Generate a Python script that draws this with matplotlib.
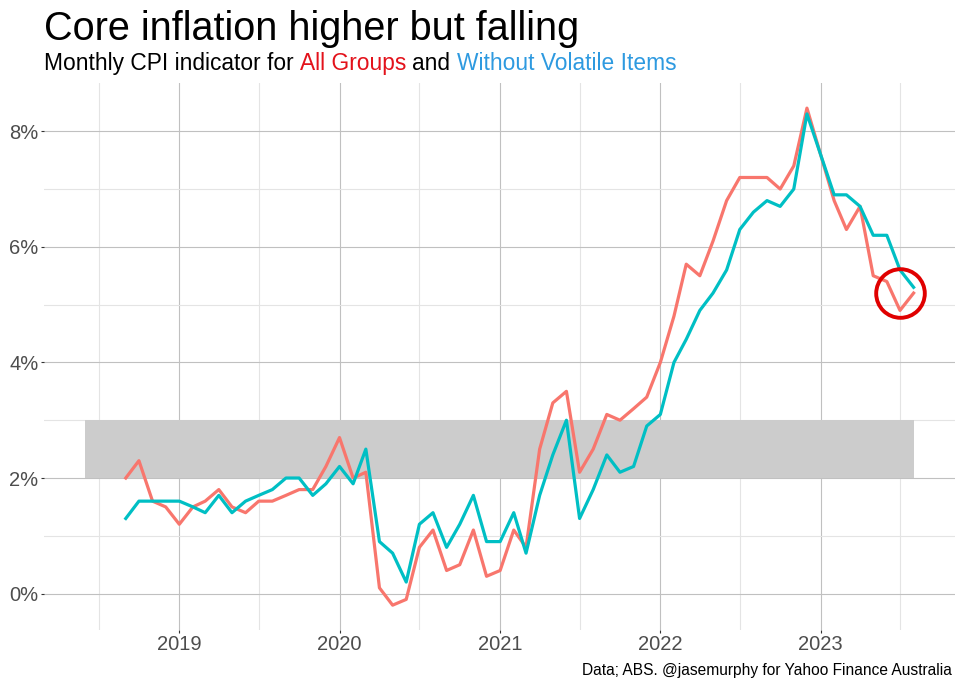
"""
Core inflation higher but falling
Monthly CPI indicator: All Groups vs Without Volatile Items (annual %)
"""
import datetime as dt
import matplotlib
matplotlib.use("Agg")
import matplotlib.pyplot as plt
import matplotlib.dates as mdates

plt.rcParams["font.family"] = ["Liberation Sans", "DejaVu Sans"]

# ---------------------------------------------------------------------
# data (annual % change, monthly, Sep 2018 - Aug 2023)
START_YEAR, START_MONTH = 2018, 9
all_groups = [
    2.0, 2.3, 1.6, 1.5,
    1.2, 1.5, 1.6, 1.8, 1.5, 1.4, 1.6, 1.6, 1.7, 1.8, 1.8, 2.2,
    2.7, 2.0, 2.1, 0.1, -0.2, -0.1, 0.8, 1.1, 0.4, 0.5, 1.1, 0.3,
    0.4, 1.1, 0.8, 2.5, 3.3, 3.5, 2.1, 2.5, 3.1, 3.0, 3.2, 3.4,
    4.0, 4.8, 5.7, 5.5, 6.1, 6.8, 7.2, 7.2, 7.2, 7.0, 7.4, 8.4,
    7.6, 6.8, 6.3, 6.7, 5.5, 5.4, 4.9, 5.2,
]
ex_volatile = [
    1.3, 1.6, 1.6, 1.6,
    1.6, 1.5, 1.4, 1.7, 1.4, 1.6, 1.7, 1.8, 2.0, 2.0, 1.7, 1.9,
    2.2, 1.9, 2.5, 0.9, 0.7, 0.2, 1.2, 1.4, 0.8, 1.2, 1.7, 0.9,
    0.9, 1.4, 0.7, 1.7, 2.4, 3.0, 1.3, 1.8, 2.4, 2.1, 2.2, 2.9,
    3.1, 4.0, 4.4, 4.9, 5.2, 5.6, 6.3, 6.6, 6.8, 6.7, 7.0, 8.3,
    7.6, 6.9, 6.9, 6.7, 6.2, 6.2, 5.6, 5.3,
]

# RBA target band
band_lo, band_hi = 2, 3
band_start = dt.date(2018, 6, 1)
band_end = dt.date(2023, 8, 1)

# highlight circle
circle_date = dt.date(2023, 7, 1)
circle_val = 5.2

RED = "#F8766D"
TEAL = "#00BFC4"
TXT = "#4D4D4D"


def month_seq(y, m, n):
    out = []
    for _ in range(n):
        out.append(dt.date(y, m, 1))
        m += 1
        if m > 12:
            m = 1; y += 1
    return out


dates = month_seq(START_YEAR, START_MONTH, len(all_groups))

# ---------------------------------------------------------------------
fig = plt.figure(figsize=(9.6, 6.86), dpi=100)
ax = fig.add_axes([0.0458, 0.0816, 0.949, 0.797])

x0, x1 = mdates.date2num(band_start), mdates.date2num(band_end)
pad = 0.05 * (x1 - x0)
ax.set_xlim(x0 - pad, x1 + pad)
ylo, yhi = -0.2, 8.4
ypad = 0.05 * (yhi - ylo)
ax.set_ylim(ylo - ypad, yhi + ypad)

ax.fill_between([band_start, band_end], band_lo, band_hi,
                color="#CCCCCC", lw=0, zorder=1)
ax.plot(dates, all_groups, color=RED, lw=2.3, zorder=3)
ax.plot(dates, ex_volatile, color=TEAL, lw=2.3, zorder=4)
ax.plot([circle_date], [circle_val], marker="o", ms=35, mfc="none",
        mec="#E00000", mew=2.8, zorder=5)

# axes / grid
ax.xaxis.set_major_locator(mdates.YearLocator())
ax.xaxis.set_minor_locator(mdates.MonthLocator(bymonth=7))
ax.xaxis.set_major_formatter(mdates.DateFormatter("%Y"))
ax.set_yticks([0, 2, 4, 6, 8])
ax.set_yticks([1, 3, 5, 7], minor=True)
ax.yaxis.set_major_formatter(lambda v, p: f"{v:.0f}%")
ax.grid(which="major", color="#C0C0C0", lw=0.8, zorder=0)
ax.grid(which="minor", color="#E4E4E4", lw=0.8, zorder=0)
ax.set_axisbelow(True)
for s in ax.spines.values():
    s.set_visible(False)
ax.tick_params(which="major", length=2.5, width=0.8, color="#333333",
               labelcolor=TXT, labelsize=14.5, pad=1.5)
ax.tick_params(axis="x", which="major", pad=1)
ax.tick_params(which="minor", length=0)

# titles
fig.text(0.0458, 0.942, "Core inflation higher but falling",
         fontsize=28.5, color="black", va="baseline")
prev = fig.text(0.0458, 0.898, "Monthly CPI indicator for", fontsize=16.4,
                color="black", va="baseline")
for s, c in [("All Groups", "#E3121B"), ("and", "black"),
             ("Without Volatile Items", "#2E9AE0")]:
    prev = ax.annotate(s, xy=(1, 0), xycoords=prev,
                       xytext=(4.5, 0), textcoords="offset points",
                       fontsize=16.4, color=c, va="bottom",
                       ha="left", annotation_clip=False)

fig.text(0.992, 0.016, "Data; ABS. @jasemurphy for Yahoo Finance Australia",
         fontsize=11.2, color="black", ha="right", va="baseline")

fig.savefig("out.png", dpi=100)
